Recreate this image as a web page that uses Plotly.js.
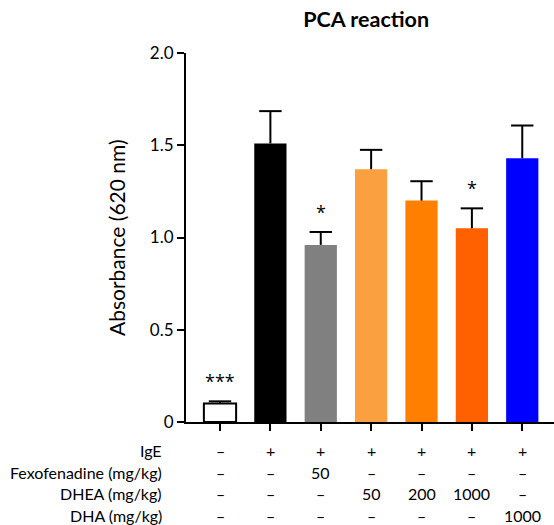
<!DOCTYPE html>
<html>
<head>
<meta charset="utf-8">
<script src="https://cdn.plot.ly/plotly-3.0.1.min.js"></script>
<style>html,body{margin:0;padding:0;background:#fff;}#chart{width:554px;height:525px;}</style>
</head>
<body>
<div id="chart"></div>
<script>
var groups = ["G1","G2","G3","G4","G5","G6","G7"];
var means = [0.10, 1.51, 0.96, 1.37, 1.20, 1.05, 1.43];
var errors = [0.012, 0.175, 0.07, 0.105, 0.105, 0.108, 0.177];
var barColors = ["#FFFFFF","#000000","#808080","#FBA040","#FF8000","#FF6000","#0000FF"];
var barLines = ["#000000","#000000","#808080","#FBA040","#FF8000","#FF6000","#0000FF"];
var sigMarks = ["***","","*","","","*",""];
var rowLabels = ["IgE","Fexofenadine (mg/kg)","DHEA (mg/kg)","DHA (mg/kg)"];
var rowIgE = ["–","+","+","+","+","+","+"];
var rowFexo = ["–","–","50","–","–","–","–"];
var rowDHEA = ["–","–","–","50","200","1000","–"];
var rowDHA = ["–","–","–","–","–","–","1000"];
var yTicks = [0, 0.5, 1.0, 1.5, 2.0];
var yTickText = ["0","0.5","1.0","1.5","2.0"];

var font = "Lato, Open Sans, sans-serif";
var starFont = "Open Sans, sans-serif";
var barTrace = {
  type: "bar",
  x: groups,
  y: means,
  width: 0.64,
  marker: {color: barColors, line: {color: barLines, width: [2,0,0,0,0,0,0]}},
  hoverinfo: "none"
};
var errTrace = {
  type: "scatter", mode: "markers",
  x: groups,
  y: means,
  error_y: {type: "data", symmetric: false, array: errors, arrayminus: means.map(function(){return 0;}),
            color: "#000", thickness: 2, width: 0},
  marker: {size: 0.1, color: "rgba(0,0,0,0)"},
  hoverinfo: "none"
};
var capTrace = {
  type: "scatter", mode: "markers",
  x: groups,
  y: means.map(function(m, i){ return m + errors[i]; }),
  marker: {symbol: "line-ew", size: 16, line: {color: "#000", width: 2}},
  hoverinfo: "none"
};

var annotations = [];
groups.forEach(function(g, i){
  if (sigMarks[i]) {
    annotations.push({x: g, y: means[i] + errors[i], xref: "x", yref: "y", text: sigMarks[i],
      showarrow: false, yanchor: "bottom", yshift: 6, font: {family: starFont, size: 18, color: "#000"}});
  }
});
var rows = [rowIgE, rowFexo, rowDHEA, rowDHA];
var rowY = [450, 472, 493, 515];
rows.forEach(function(row, r){
  var yp = 1 - (rowY[r] - 53) / 369;
  annotations.push({x: 0, xref: "paper", xanchor: "right", xshift: -22, y: yp, yref: "paper", yanchor: "middle",
    text: rowLabels[r], showarrow: false, font: {family: font, size: 16, color: "#000"}});
  row.forEach(function(v, i){
    annotations.push({x: groups[i], xref: "x", y: yp, yref: "paper", yanchor: "middle", text: v,
      showarrow: false, font: {family: font, size: 16, color: "#000"}});
  });
});
annotations.push({x: 0, xref: "paper", xshift: -69, xanchor: "center", y: 1 - (238 - 53) / 369, yref: "paper",
  yanchor: "middle", textangle: -90, text: "Absorbance (620 nm)", showarrow: false,
  font: {family: font, size: 21, color: "#000"}});

var layout = {
  width: 554, height: 525,
  margin: {l: 186, r: 0, t: 53, b: 103},
  paper_bgcolor: "#fff", plot_bgcolor: "#fff",
  showlegend: false,
  title: {text: "<b>PCA reaction</b>", x: 0.661, xanchor: "center", y: 0.962, yanchor: "middle",
          font: {family: font, size: 21.5, color: "#000"}},
  xaxis: {range: [-0.675, 6.63], showline: true, linecolor: "#000", linewidth: 2,
          ticks: "outside", ticklen: 7, tickwidth: 2, tickcolor: "#000", showticklabels: false,
          showgrid: false, zeroline: false, fixedrange: true},
  yaxis: {range: [0, 2.0], showline: true, linecolor: "#000", linewidth: 2,
          tickvals: yTicks, ticktext: yTickText, ticks: "outside", ticklen: 7, tickwidth: 2, tickcolor: "#000",
          tickfont: {family: font, size: 17, color: "#000"}, showgrid: false, zeroline: false,
          fixedrange: true},
  annotations: annotations
};
Plotly.newPlot("chart", [barTrace, errTrace, capTrace], layout, {displayModeBar: false, staticPlot: true});
</script>
</body>
</html>
